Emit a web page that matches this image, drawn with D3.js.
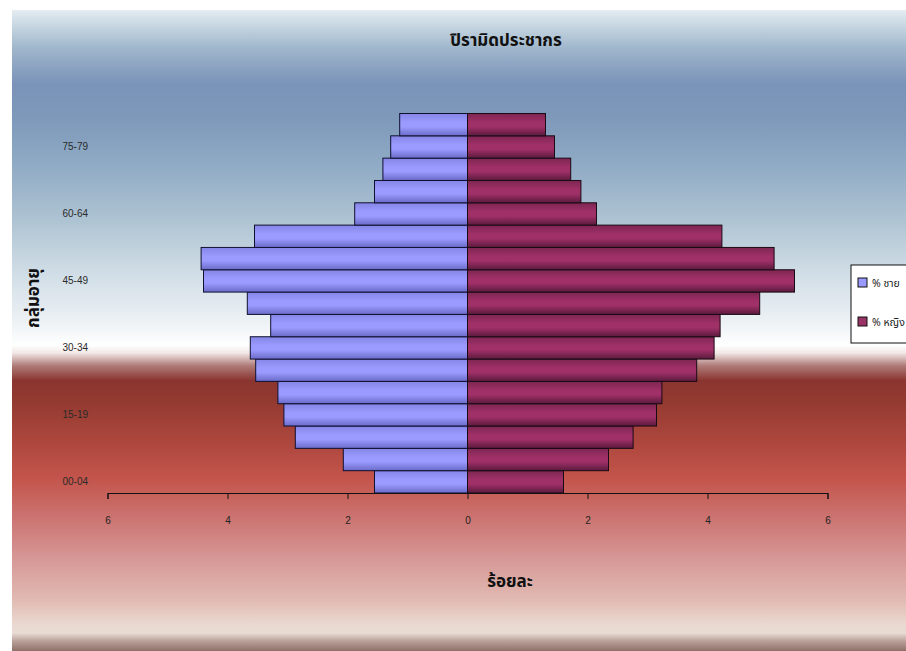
<!DOCTYPE html>
<html>
<head>
<meta charset="utf-8">
<script src="https://cdn.jsdelivr.net/npm/d3@7"></script>
<style>
  body { margin: 0; background: #fff; }
  svg { display: block; }
</style>
</head>
<body>
<svg width="906" height="651"></svg>
<script>
const ageGroups = ['00-04','05-09','10-14','15-19','20-24','25-29','30-34','35-39','40-44',
                   '45-49','50-54','55-59','60-64','65-69','70-74','75-79','80-84']
const malePct   = [1.55, 2.07, 2.87, 3.06, 3.16, 3.53, 3.62, 3.28, 3.67, 4.40, 4.44, 3.55, 1.88, 1.55, 1.41, 1.28, 1.13]
const femalePct = [1.60, 2.35, 2.76, 3.15, 3.24, 3.82, 4.11, 4.21, 4.87, 5.45, 5.11, 4.24, 2.15, 1.89, 1.72, 1.45, 1.30]
const shownAges = ['00-04','15-19','30-34','45-49','60-64','75-79']
const xTicks = [-6, -4, -2, 0, 2, 4, 6]
const seriesNames = ['% ชาย', '% หญิง']

const svg = d3.select('svg')
const width = 906
const height = 651
const defs = svg.append('defs')

// background of the chart area, vertical gradient
const bgStops = [
  [0, '#e4edf2'], [0.025, '#c6d6e1'], [0.06, '#9fb6cc'], [0.115, '#7a93b8'],
  [0.17, '#7e99ba'], [0.25, '#92adc6'], [0.33, '#afc4d3'], [0.41, '#d0dde6'],
  [0.485, '#ecf1f4'], [0.523, '#ffffff'], [0.535, '#f2e8e7'], [0.555, '#ae7b78'],
  [0.578, '#8b3530'], [0.61, '#933a30'], [0.67, '#ac463d'], [0.73, '#c3544b'],
  [0.795, '#cc7572'], [0.855, '#d69796'], [0.92, '#e1bab2'], [0.958, '#ead8d0'],
  [0.972, '#e8dcd5'], [0.985, '#b89f98'], [1, '#8f7068']
]
const bg = defs.append('linearGradient').attr('id', 'bg')
  .attr('x1', 0).attr('y1', 0).attr('x2', 0).attr('y2', 1)
bg.selectAll('stop').data(bgStops).join('stop')
  .attr('offset', d => d[0]).attr('stop-color', d => d[1])

function barGradient(id, edge, mid, low) {
  const g = defs.append('linearGradient').attr('id', id)
    .attr('x1', 0).attr('y1', 0).attr('x2', 0).attr('y2', 1)
  g.append('stop').attr('offset', 0).attr('stop-color', edge)
  g.append('stop').attr('offset', 0.4).attr('stop-color', mid)
  g.append('stop').attr('offset', 0.6).attr('stop-color', mid)
  g.append('stop').attr('offset', 1).attr('stop-color', low)
}
barGradient('male', '#8585e6', '#9b9bff', '#6a6ac8')
barGradient('female', '#7d2652', '#a03068', '#5a1a3d')

svg.append('rect')
  .attr('x', 12).attr('y', 10)
  .attr('width', width - 12).attr('height', height - 10)
  .attr('fill', 'url(#bg)')

const x = d3.scaleLinear().domain([-6, 6]).range([107.5, 827.5])
const y = d3.scaleBand().domain(ageGroups).range([493, 113.5]).padding(0)

const plot = svg.append('g')

plot.selectAll('rect.male').data(ageGroups).join('rect')
  .attr('class', 'male')
  .attr('x', (d, i) => x(-malePct[i]))
  .attr('y', d => y(d))
  .attr('width', (d, i) => x(0) - x(-malePct[i]))
  .attr('height', y.bandwidth())
  .attr('fill', 'url(#male)')
  .attr('stroke', '#101030')
  .attr('stroke-width', 1)

plot.selectAll('rect.female').data(ageGroups).join('rect')
  .attr('class', 'female')
  .attr('x', x(0))
  .attr('y', d => y(d))
  .attr('width', (d, i) => x(femalePct[i]) - x(0))
  .attr('height', y.bandwidth())
  .attr('fill', 'url(#female)')
  .attr('stroke', '#1a0a14')
  .attr('stroke-width', 1)

// x axis
const xAxis = d3.axisBottom(x)
  .tickValues(xTicks)
  .tickFormat(d => Math.abs(d))
  .tickSize(6)
  .tickPadding(18)
const xg = svg.append('g')
  .attr('transform', `translate(0, 493)`)
  .call(xAxis)
xg.select('.domain').attr('stroke', '#111')
xg.selectAll('.tick line').attr('stroke', '#111')
xg.selectAll('text')
  .attr('font-family', 'Liberation Sans, Arial, sans-serif')
  .attr('font-size', 10).attr('fill', '#222')

// y axis labels (every third group)
const yAxis = d3.axisLeft(y).tickValues(shownAges).tickSize(0).tickPadding(0)
const yg = svg.append('g')
  .attr('transform', 'translate(88, 0)')
  .call(yAxis)
yg.select('.domain').remove()
yg.selectAll('text')
  .attr('font-family', 'Liberation Sans, Arial, sans-serif')
  .attr('font-size', 10).attr('fill', '#2a2a2a')

// titles
const thaiFont = 'Noto Sans Thai, Noto Sans, Tahoma, sans-serif'
svg.append('text')
  .attr('x', 506).attr('y', 46)
  .attr('text-anchor', 'middle')
  .attr('font-family', thaiFont)
  .attr('font-weight', 'bold').attr('font-size', 17)
  .attr('fill', '#111')
  .text('ปิรามิดประชากร')

svg.append('text')
  .attr('x', 510).attr('y', 587)
  .attr('text-anchor', 'middle')
  .attr('font-family', thaiFont)
  .attr('font-weight', 'bold').attr('font-size', 17)
  .attr('fill', '#111')
  .text('ร้อยละ')

svg.append('text')
  .attr('transform', 'translate(39, 298) rotate(-90)')
  .attr('text-anchor', 'middle')
  .attr('font-family', thaiFont)
  .attr('font-weight', 'bold').attr('font-size', 17)
  .attr('fill', '#111')
  .text('กลุ่มอายุ')

// legend, cut off by the right edge as in the original
const legend = svg.append('g').attr('transform', 'translate(851, 265)')
legend.append('rect')
  .attr('width', 80).attr('height', 78)
  .attr('fill', '#fff').attr('stroke', '#111')
const items = legend.selectAll('g.item').data(seriesNames).join('g')
  .attr('class', 'item')
  .attr('transform', (d, i) => `translate(7, ${13 + i * 39})`)
items.append('rect')
  .attr('width', 9).attr('height', 9)
  .attr('fill', (d, i) => i === 0 ? '#9999ff' : '#993366')
  .attr('stroke', '#111')
items.append('text')
  .attr('x', 14).attr('y', 9)
  .attr('font-family', thaiFont)
  .attr('font-size', 10.5).attr('fill', '#222')
  .text(d => d)
</script>
</body>
</html>
